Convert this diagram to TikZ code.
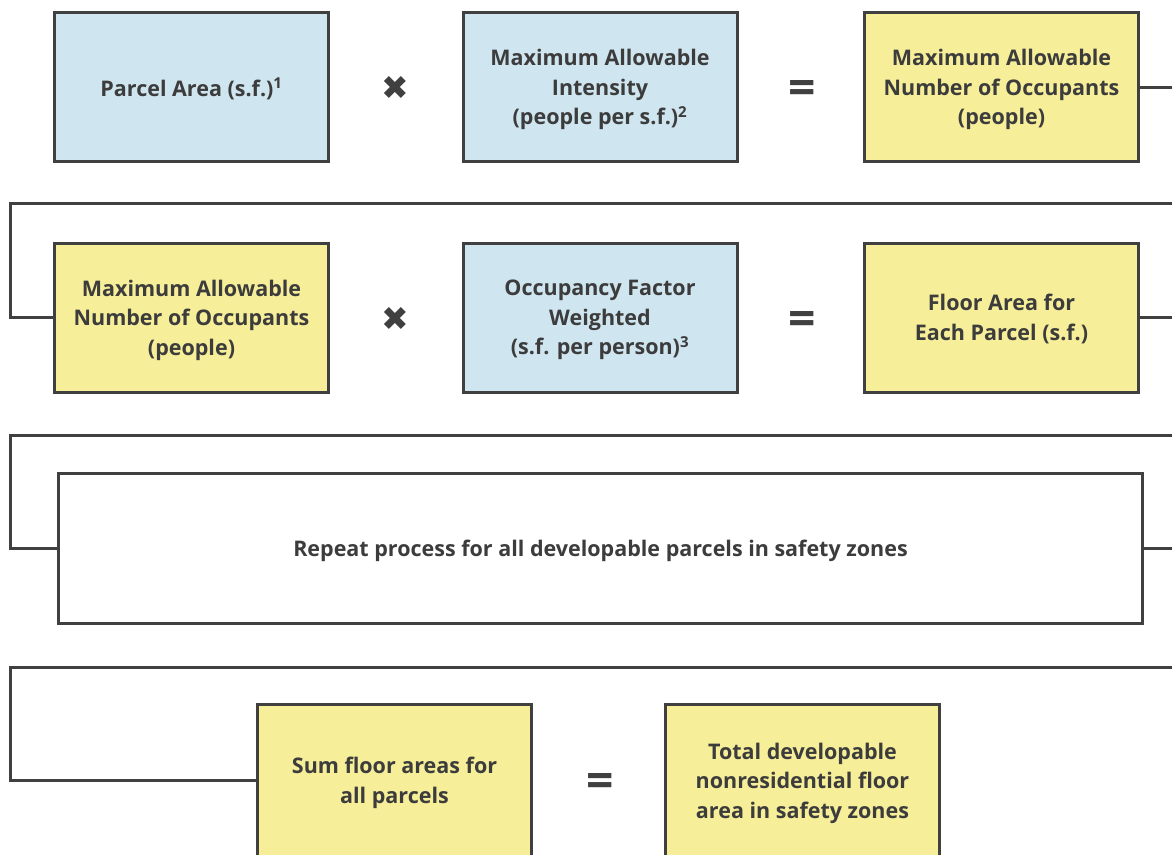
\documentclass[tikz,border=0pt]{standalone}
\usepackage{fontspec}
\setmainfont{Open Sans}
\newfontfamily\symbolfont{DejaVu Sans}
\usepackage{xcolor}
\usepackage{tikz}
\usetikzlibrary{positioning}
\definecolor{inputblue}{RGB}{207, 229, 239}
\definecolor{resultyellow}{RGB}{246, 238, 153}
\definecolor{linegray}{RGB}{64, 64, 64}
\definecolor{textgray}{RGB}{60, 60, 60}

\begin{document}
\begin{tikzpicture}[
    x=1pt, y=-1pt,
    box/.style={
        rectangle,
        draw=linegray,
        line width=3pt,
        minimum width=274pt,
        minimum height=149pt,
        inner sep=4pt,
        text depth=0pt,
        align=center,
        text=textgray,
        font=\fontsize{21.5}{29.5}\selectfont\bfseries
    },
    inputbox/.style={
        box,
        fill=inputblue
    },
    resultbox/.style={
        box,
        fill=resultyellow
    },
    repeatbox/.style={
        box,
        fill=white,
        minimum width=1084pt,
        minimum height=150pt
    },
    timessign/.style={
        text=linegray,
        inner sep=0pt,
        font=\symbolfont\fontsize{33}{33}\selectfont
    },
    equalsign/.style={
        text=linegray,
        inner sep=0pt,
        font=\fontsize{48}{48}\selectfont\bfseries
    },
    link/.style={
        line width=3pt,
        draw=linegray
    }
]
    \useasboundingbox[fill=white] (0,0) rectangle (1172,854);

    % Row 1: parcel area x intensity
    \node[inputbox] (parcel) at (191.5,87) {Parcel Area (s.f.)\textsuperscript{1}};
    \node[timessign] (times1) at (395,88) {✖};
    \node[inputbox] (intensity) at (600,87) {Maximum Allowable\\Intensity\\(people per s.f.)\textsuperscript{2}};
    \node[equalsign] (equals1) at (802,92) {=};
    \node[resultbox] (occupants) at (1001.5,87) {Maximum Allowable\\Number of Occupants\\(people)};

    % Row 2: occupants x occupancy factor
    \node[resultbox] (occupants2) at (191.5,317.5) {Maximum Allowable\\Number of Occupants\\(people)};
    \node[timessign] (times2) at (395,319) {✖};
    \node[inputbox] (factor) at (600,317.5) {Occupancy Factor\\Weighted\\(s.f. per person)\textsuperscript{3}};
    \node[equalsign] (equals2) at (802,323) {=};
    \node[resultbox] (floorarea) at (1001.5,317.5) {Floor Area for\\Each Parcel (s.f.)};

    % Row 3: repeat
    \node[repeatbox] (repeat) at (600.5,548.5) {Repeat process for all developable parcels in safety zones};

    % Row 4: sum
    \node[resultbox, minimum height=152pt] (sum) at (394.5,780.5) {Sum floor areas for\\all parcels};
    \node[equalsign] (equals3) at (600,785) {=};
    \node[resultbox, minimum height=152pt] (total) at (802.5,780.5) {Total developable\\nonresidential floor\\area in safety zones};

    % Bend points
    \coordinate (railR1) at (1200,203);
    \coordinate (railL1) at (10,203);
    \coordinate (railR2) at (1200,435);
    \coordinate (railL2) at (10,435);
    \coordinate (railR3) at (1200,667);
    \coordinate (railL3) at (10,667);

    % Connectors
    \draw[link] (occupants.east) -| (railR1) -- (railL1) |- (occupants2.west);
    \draw[link] (floorarea.east) -| (railR2) -- (railL2) |- (repeat.west);
    \draw[link] (repeat.east) -| (railR3) -- (railL3) |- (sum.west);

\end{tikzpicture}
\end{document}
